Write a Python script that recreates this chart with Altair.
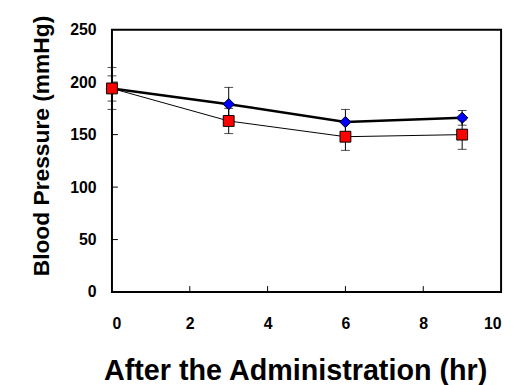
import altair as alt
import pandas as pd

time = [0, 3, 6, 9]
blue_vals = [194, 179, 162, 166]
blue_err = [20, 16, 12, 7]
red_vals = [194, 163, 148, 150]
red_err = [12, 12, 13, 14]
x_ticks = [0, 2, 4, 6, 8, 10]
y_ticks = [0, 50, 100, 150, 200, 250]

FONT = "Liberation Sans, Arial, sans-serif"

rows = []
for s, vals, errs in [("blue", blue_vals, blue_err), ("red", red_vals, red_err)]:
    for t, v, e in zip(time, vals, errs):
        rows.append({"series": s, "t": t, "v": v, "lo": v - e, "hi": v + e})
df = pd.DataFrame(rows)
blue_df = df[df.series == "blue"]
red_df = df[df.series == "red"]

xs = alt.Scale(domain=[0, 10], nice=False)
ys = alt.Scale(domain=[0, 250], nice=False)

xaxis = alt.Axis(values=x_ticks, grid=False, ticks=False, domain=False, labelPadding=24,
                 title="After the Administration (hr)", titleX=185, titleY=88,
                 titleAlign="center", titleBaseline="alphabetic", titleFontSize=29)
yaxis = alt.Axis(values=y_ticks, grid=False, ticks=False, domain=False, labelPadding=16,
                 title="Blood Pressure (mmHg)", titleX=-64, titleY=117,
                 titleAlign="center", titleBaseline="alphabetic", titleFontSize=23)

base = alt.Chart(df)

err_rule = base.mark_rule(color="black", strokeWidth=1).encode(
    x=alt.X("t:Q", scale=xs, axis=xaxis),
    y=alt.Y("lo:Q", scale=ys, axis=yaxis),
    y2="hi:Q",
)
cap_hi = base.mark_tick(color="black", thickness=1, size=9, orient="horizontal").encode(
    x=alt.X("t:Q", scale=xs), y=alt.Y("hi:Q", scale=ys)
)
cap_lo = base.mark_tick(color="black", thickness=1, size=9, orient="horizontal").encode(
    x=alt.X("t:Q", scale=xs), y=alt.Y("lo:Q", scale=ys)
)

blue_line = alt.Chart(blue_df).mark_line(color="black", strokeWidth=2.5).encode(
    x=alt.X("t:Q", scale=xs), y=alt.Y("v:Q", scale=ys)
)
red_line = alt.Chart(red_df).mark_line(color="black", strokeWidth=1).encode(
    x=alt.X("t:Q", scale=xs), y=alt.Y("v:Q", scale=ys)
)
blue_pts = alt.Chart(blue_df).mark_point(shape="diamond", filled=True, fill="#0000FF",
                                         stroke="black", strokeWidth=1, size=130, opacity=1).encode(
    x=alt.X("t:Q", scale=xs), y=alt.Y("v:Q", scale=ys)
)
red_pts = alt.Chart(red_df).mark_point(shape="square", filled=True, fill="#FF0000",
                                       stroke="black", strokeWidth=1, size=120, opacity=1).encode(
    x=alt.X("t:Q", scale=xs), y=alt.Y("v:Q", scale=ys)
)

ytick_df = pd.DataFrame({"v": y_ticks[1:-1]})
xtick_df = pd.DataFrame({"v": x_ticks[1:-1]})
ytick_marks = alt.Chart(ytick_df).mark_rule(color="black", strokeWidth=1).encode(
    y=alt.Y("v:Q", scale=ys), x=alt.value(0), x2=alt.value(6)
)
xtick_marks = alt.Chart(xtick_df).mark_rule(color="black", strokeWidth=1).encode(
    x=alt.X("v:Q", scale=xs), y=alt.value(265), y2=alt.value(259)
)

chart = alt.layer(
    ytick_marks, xtick_marks, err_rule, cap_hi, cap_lo, red_line, blue_line, blue_pts, red_pts
).properties(
    width=393, height=265,
    autosize=alt.AutoSizeParams(type="none"),
    padding={"left": 105, "top": 20, "right": 8, "bottom": 92},
).configure_view(
    stroke="black", strokeWidth=2
).configure_axis(
    labelFont=FONT, titleFont=FONT, labelFontSize=16, labelFontWeight="bold",
    labelColor="black", titleColor="black", titleFontWeight="bold",
)

chart.save("out.html", embed_options={"renderer": "svg", "actions": False})
